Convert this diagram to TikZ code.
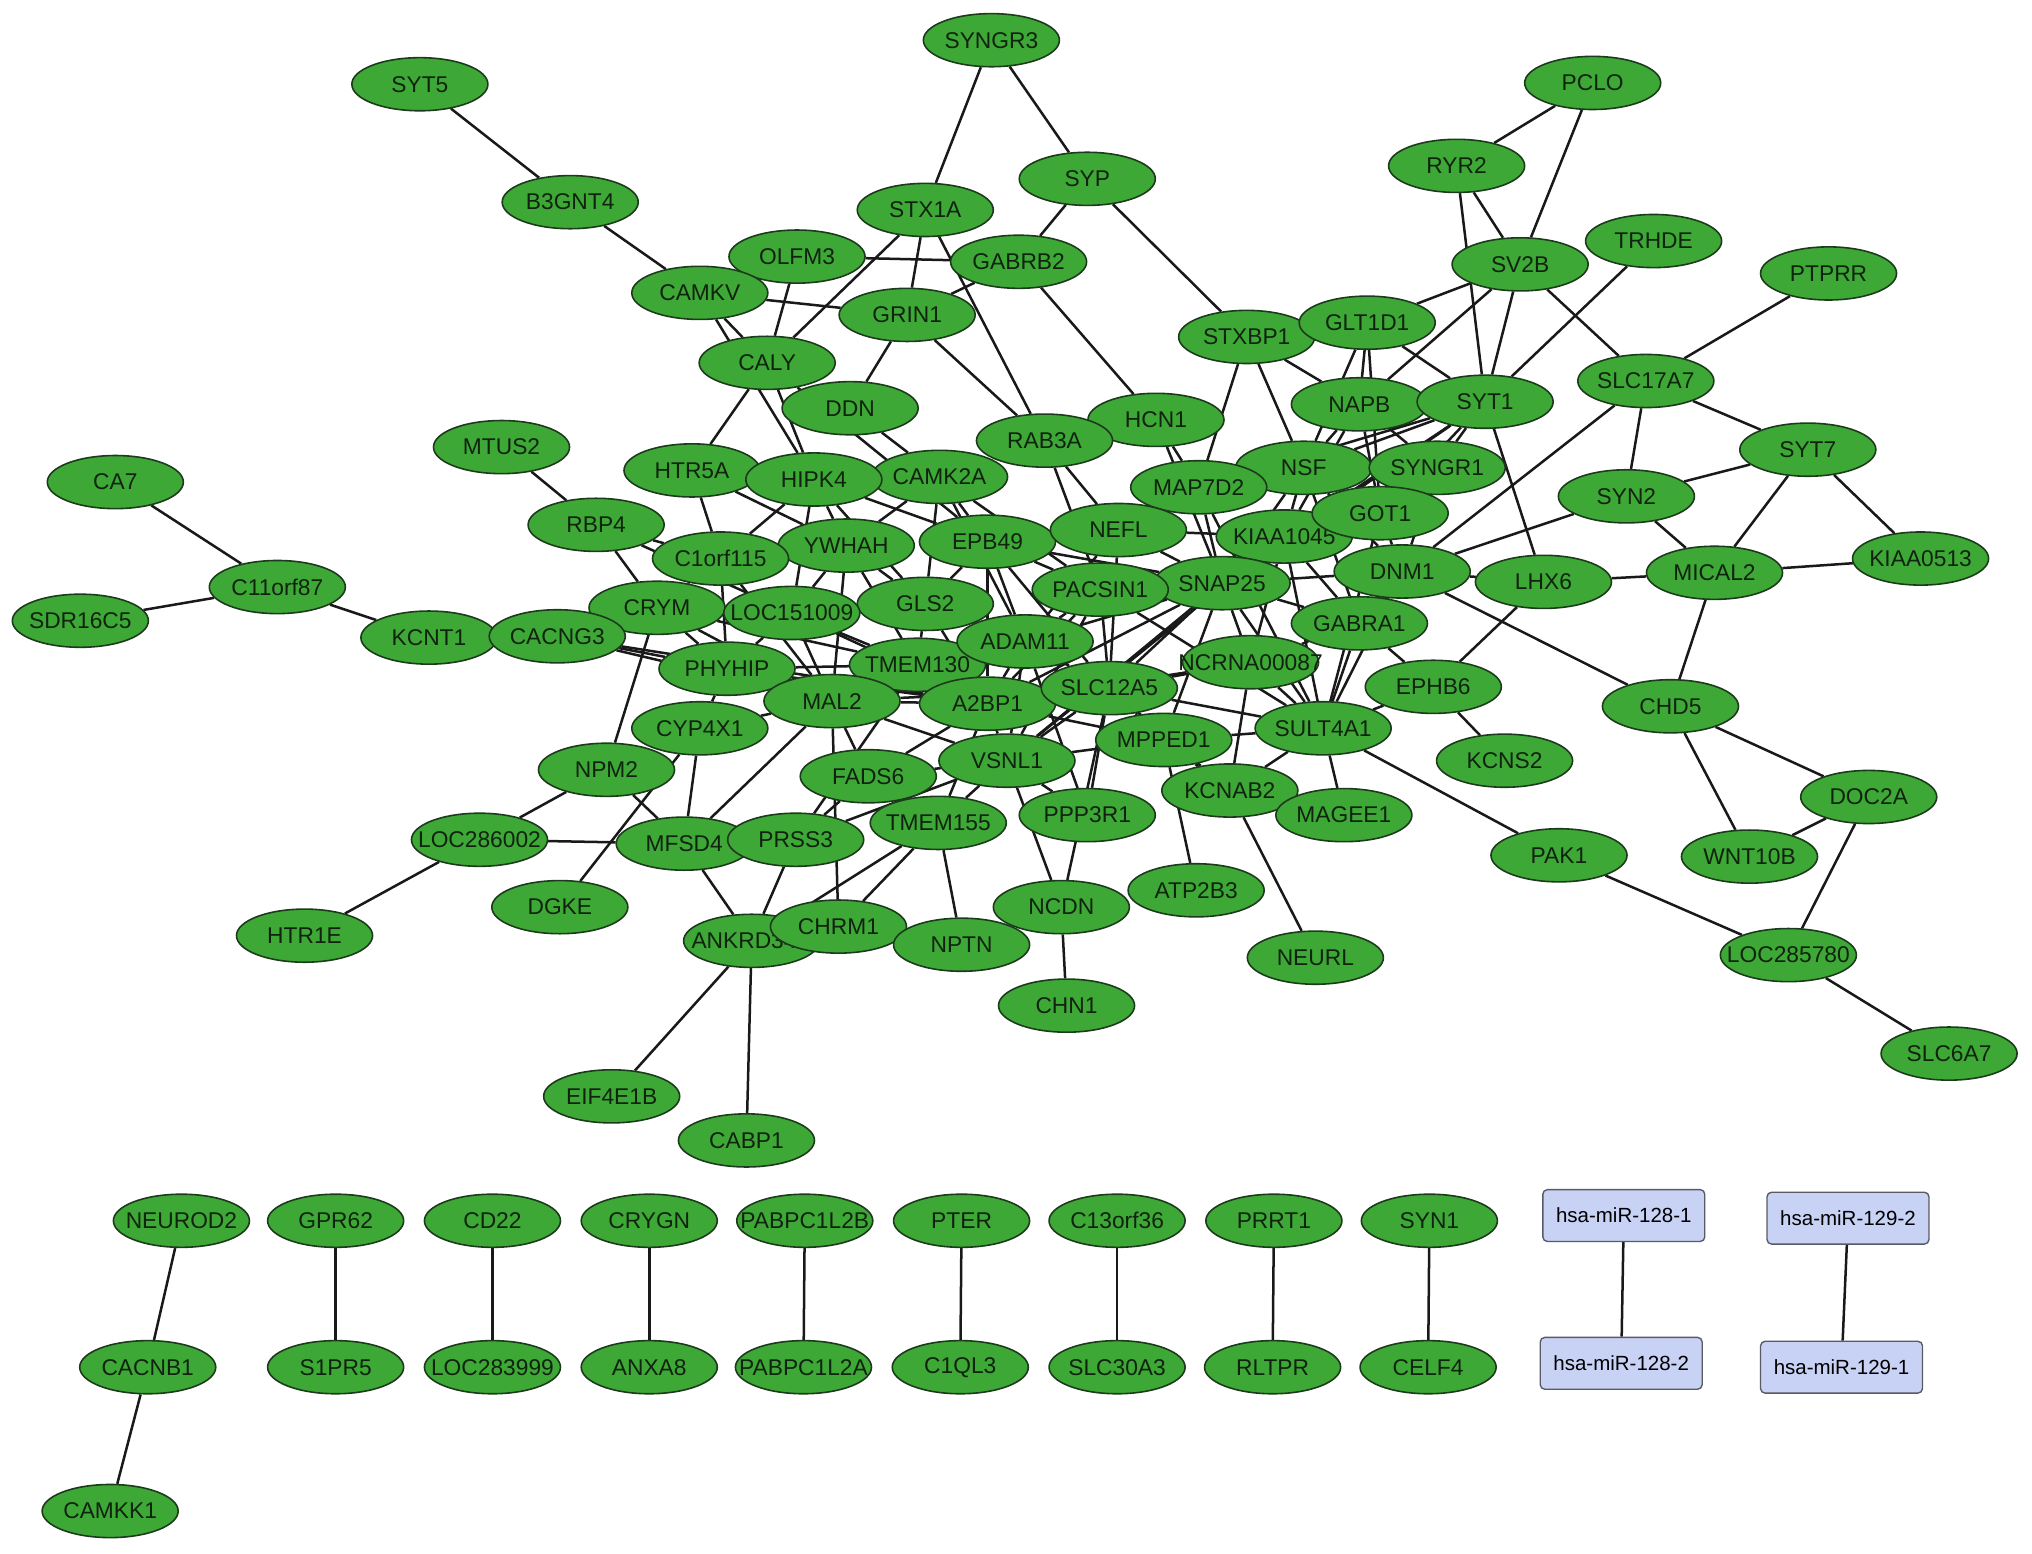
\documentclass[tikz,border=0pt]{standalone}
\usepackage{fontspec}
\setmainfont{Liberation Sans}
\usetikzlibrary{shapes.geometric}
\definecolor{gfill}{RGB}{62,168,54}
\definecolor{gline}{RGB}{28,58,28}
\definecolor{mfill}{RGB}{200,210,245}
\definecolor{mline}{RGB}{90,90,100}
\definecolor{txt}{RGB}{15,35,15}
\pgfdeclarelayer{bg}
\pgfsetlayers{bg,main}
\tikzset{
 gn/.style={ellipse, draw=gline, fill=gfill, line width=0.7pt, minimum width=2.1cm, minimum height=0.82cm, inner sep=0pt},
 lbl/.style={font=\fontsize{10}{12}\selectfont, text=txt, inner sep=0pt},
 mir/.style={rectangle, rounded corners=2pt, draw=mline, fill=mfill, line width=0.6pt, minimum width=2.5cm, minimum height=0.8cm, inner sep=0pt, font=\fontsize{9}{11}\selectfont, text=black},
 edge/.style={draw=black!90, line width=1.1pt}
}
\newcommand\gnode[4]{\node[gn, label={[lbl]center:#4}] (#1) at (#2,#3) {};}
\begin{document}
\begin{tikzpicture}[x=0.02cm,y=-0.02cm]
\useasboundingbox (0,0) rectangle (1568,1199);
\gnode{syngr3}{765}{31}{SYNGR3}
\gnode{syt5}{324}{65}{SYT5}
\gnode{pclo}{1229}{64}{PCLO}
\gnode{syp}{839}{138}{SYP}
\gnode{ryr2}{1124}{128}{RYR2}
\gnode{b3gnt4}{440}{156}{B3GNT4}
\gnode{stx1a}{714}{162}{STX1A}
\gnode{trhde}{1276}{186}{TRHDE}
\gnode{sv2b}{1173}{204}{SV2B}
\gnode{ptprr}{1411}{211}{PTPRR}
\gnode{olfm3}{615}{198}{OLFM3}
\gnode{gabrb2}{786}{202}{GABRB2}
\gnode{camkv}{540}{226}{CAMKV}
\gnode{grin1}{700}{243}{GRIN1}
\gnode{stxbp1}{962}{260}{STXBP1}
\gnode{glt1d1}{1055}{249}{GLT1D1}
\gnode{caly}{592}{280}{CALY}
\gnode{slc17a7}{1270}{294}{SLC17A7}
\gnode{ddn}{656}{315}{DDN}
\gnode{napb}{1049}{312}{NAPB}
\gnode{syt1}{1146}{310}{SYT1}
\gnode{hcn1}{892}{324}{HCN1}
\gnode{rab3a}{806}{340}{RAB3A}
\gnode{mtus2}{387}{345}{MTUS2}
\gnode{syt7}{1395}{347}{SYT7}
\gnode{htr5a}{534}{363}{HTR5A}
\gnode{camk2a}{725}{368}{CAMK2A}
\gnode{hipk4}{628}{370}{HIPK4}
\gnode{nsf}{1006}{361}{NSF}
\gnode{syngr1}{1109}{361}{SYNGR1}
\gnode{ca7}{89}{372}{CA7}
\gnode{map7d2}{925}{376}{MAP7D2}
\gnode{syn2}{1255}{383}{SYN2}
\gnode{kiaa1045}{991}{414}{KIAA1045}
\gnode{got1}{1065}{396}{GOT1}
\gnode{rbp4}{460}{405}{RBP4}
\gnode{ywhah}{653}{421}{YWHAH}
\gnode{epb49}{762}{418}{EPB49}
\gnode{nefl}{863}{409}{NEFL}
\gnode{kiaa0513}{1482}{431}{KIAA0513}
\gnode{c1orf115}{556}{431}{C1orf115}
\gnode{dnm1}{1082}{441}{DNM1}
\gnode{mical2}{1323}{442}{MICAL2}
\gnode{lhx6}{1191}{449}{LHX6}
\gnode{c11orf87}{214}{453}{C11orf87}
\gnode{snap25}{943}{450}{SNAP25}
\gnode{pacsin1}{849}{455}{PACSIN1}
\gnode{gls2}{714}{466}{GLS2}
\gnode{crym}{507}{469}{CRYM}
\gnode{loc151009}{611}{473}{LOC151009}
\gnode{sdr16c5}{62}{479}{SDR16C5}
\gnode{gabra1}{1049}{481}{GABRA1}
\gnode{kcnt1}{331}{492}{KCNT1}
\gnode{cacng3}{430}{491}{CACNG3}
\gnode{tmem130}{708}{513}{TMEM130}
\gnode{adam11}{791}{495}{ADAM11}
\gnode{phyhip}{561}{516}{PHYHIP}
\gnode{ncrna}{965}{511}{NCRNA00087}
\gnode{ephb6}{1106}{530}{EPHB6}
\gnode{mal2}{642}{541}{MAL2}
\gnode{a2bp1}{762}{543}{A2BP1}
\gnode{slc12a5}{856}{531}{SLC12A5}
\gnode{chd5}{1289}{545}{CHD5}
\gnode{cyp4x1}{540}{562}{CYP4X1}
\gnode{sult4a1}{1021}{562}{SULT4A1}
\gnode{mpped1}{898}{571}{MPPED1}
\gnode{vsnl1}{777}{587}{VSNL1}
\gnode{kcns2}{1161}{587}{KCNS2}
\gnode{npm2}{468}{594}{NPM2}
\gnode{fads6}{670}{599}{FADS6}
\gnode{kcnab2}{949}{610}{KCNAB2}
\gnode{doc2a}{1442}{615}{DOC2A}
\gnode{magee1}{1037}{629}{MAGEE1}
\gnode{ppp3r1}{839}{629}{PPP3R1}
\gnode{tmem155}{724}{635}{TMEM155}
\gnode{mfsd4}{528}{651}{MFSD4}
\gnode{prss3}{614}{648}{PRSS3}
\gnode{loc286002}{370}{648}{LOC286002}
\gnode{pak1}{1203}{660}{PAK1}
\gnode{wnt10b}{1350}{661}{WNT10B}
\gnode{atp2b3}{923}{687}{ATP2B3}
\gnode{dgke}{432}{700}{DGKE}
\gnode{ncdn}{819}{700}{NCDN}
\gnode{ankrd}{580}{726}{ANKRD34B}
\gnode{chrm1}{647}{715}{CHRM1}
\gnode{htr1e}{235}{722}{HTR1E}
\gnode{nptn}{742}{729}{NPTN}
\gnode{loc285780}{1380}{737}{LOC285780}
\gnode{neurl}{1015}{739}{NEURL}
\gnode{chn1}{823}{776}{CHN1}
\gnode{slc6a7}{1504}{813}{SLC6A7}
\gnode{eif4e1b}{472}{846}{EIF4E1B}
\gnode{cabp1}{576}{880}{CABP1}
% bottom rows
\gnode{neurod2}{140}{942}{NEUROD2}
\gnode{gpr62}{259}{942}{GPR62}
\gnode{cd22}{380}{942}{CD22}
\gnode{crygn}{501}{942}{CRYGN}
\gnode{pabpc1l2b}{621}{942}{PABPC1L2B}
\gnode{pter}{742}{942}{PTER}
\gnode{c13orf36}{862}{942}{C13orf36}
\gnode{prrt1}{983}{942}{PRRT1}
\gnode{syn1}{1103}{942}{SYN1}
\gnode{cacnb1}{114}{1055}{CACNB1}
\gnode{s1pr5}{259}{1055}{S1PR5}
\gnode{loc283999}{380}{1055}{LOC283999}
\gnode{anxa8}{501}{1055}{ANXA8}
\gnode{pabpc1l2a}{620}{1055}{PABPC1L2A}
\gnode{c1ql3}{741}{1055}{C1QL3}
\gnode{slc30a3}{862}{1055}{SLC30A3}
\gnode{rltpr}{982}{1055}{RLTPR}
\gnode{celf4}{1102}{1055}{CELF4}
\gnode{camkk1}{85}{1166}{CAMKK1}
\node[mir] (mira) at (1253,938) {hsa-miR-128-1};
\node[mir] (mirb) at (1251,1052) {hsa-miR-128-2};
\node[mir] (mirc) at (1426,940) {hsa-miR-129-2};
\node[mir] (mird) at (1421,1055) {hsa-miR-129-1};
\begin{pgfonlayer}{bg}
\foreach \a/\b in {syt5/b3gnt4, b3gnt4/camkv, syngr3/stx1a, syngr3/syp, syp/gabrb2, syp/stxbp1, pclo/ryr2, pclo/sv2b, ryr2/sv2b, ryr2/syt1, sv2b/glt1d1, sv2b/napb, sv2b/syt1, sv2b/slc17a7, trhde/syt1, ptprr/slc17a7, slc17a7/syt7, slc17a7/syn2, slc17a7/dnm1, syt7/syn2, syt7/mical2, syt7/kiaa0513, syn2/mical2, syn2/dnm1, mical2/kiaa0513, mical2/lhx6, mical2/chd5, lhx6/dnm1, syt1/lhx6, lhx6/ephb6, dnm1/chd5, chd5/doc2a, chd5/wnt10b, doc2a/wnt10b, doc2a/loc285780, pak1/loc285780, loc285780/slc6a7, sult4a1/pak1, ephb6/kcns2, sult4a1/magee1, kcnab2/neurl, mpped1/atp2b3, ncdn/chn1, vsnl1/ncdn, slc12a5/ncdn, nptn/tmem155, mal2/chrm1, ankrd/mfsd4, ankrd/prss3, ankrd/tmem155, ankrd/eif4e1b, ankrd/cabp1, mfsd4/npm2, mfsd4/loc286002, mfsd4/cyp4x1, mfsd4/mal2, loc286002/npm2, loc286002/htr1e, dgke/cyp4x1, npm2/crym, cyp4x1/phyhip, cyp4x1/mal2, rbp4/mtus2, rbp4/c1orf115, rbp4/crym, rbp4/loc151009, c11orf87/ca7, c11orf87/sdr16c5, c11orf87/kcnt1, cacng3/phyhip, cacng3/mal2, cacng3/a2bp1, htr5a/caly, htr5a/c1orf115, htr5a/ywhah, caly/hipk4, caly/epb49, camkv/caly, camkv/grin1, camkv/hipk4, olfm3/gabrb2, olfm3/caly, stx1a/caly, stx1a/grin1, stx1a/rab3a, gabrb2/grin1, gabrb2/hcn1, grin1/ddn, grin1/rab3a, ddn/camk2a, rab3a/nefl, rab3a/pacsin1, hcn1/map7d2, hcn1/snap25, stxbp1/map7d2, stxbp1/nsf, stxbp1/napb, glt1d1/napb, glt1d1/syt1, glt1d1/nsf, glt1d1/got1,
napb/nsf, napb/syngr1, napb/kiaa1045, napb/got1, syt1/nsf, syt1/syngr1, syt1/got1, syt1/kiaa1045, syt1/map7d2, syt1/snap25, nsf/syngr1, nsf/kiaa1045, nsf/snap25, nsf/dnm1, nsf/gabra1, got1/dnm1, got1/snap25, kiaa1045/snap25, kiaa1045/sult4a1, dnm1/gabra1, dnm1/sult4a1, dnm1/snap25, map7d2/snap25, map7d2/sult4a1, syngr1/kiaa1045, syngr1/dnm1,
hipk4/ywhah, hipk4/c1orf115, hipk4/loc151009, hipk4/gls2, hipk4/epb49, camk2a/epb49, camk2a/ywhah, camk2a/gls2, camk2a/pacsin1, camk2a/adam11, ywhah/c1orf115, ywhah/loc151009, ywhah/gls2, ywhah/mal2, ywhah/tmem130, c1orf115/crym, c1orf115/phyhip, c1orf115/mal2, crym/phyhip, crym/mal2, crym/tmem130, loc151009/phyhip, loc151009/mal2, loc151009/a2bp1, loc151009/tmem130, gls2/adam11, gls2/tmem130, gls2/epb49, gls2/a2bp1, epb49/pacsin1, epb49/adam11, epb49/slc12a5, epb49/a2bp1, epb49/snap25, nefl/snap25, nefl/adam11, nefl/slc12a5, nefl/kiaa1045, pacsin1/adam11, pacsin1/slc12a5, pacsin1/a2bp1, pacsin1/vsnl1, pacsin1/sult4a1, snap25/adam11, snap25/slc12a5, snap25/a2bp1, snap25/vsnl1, snap25/ncrna, snap25/sult4a1, snap25/gabra1, snap25/mpped1, adam11/slc12a5, adam11/a2bp1, adam11/vsnl1, adam11/mal2, adam11/ppp3r1, tmem130/mal2, tmem130/a2bp1, tmem130/phyhip, mal2/a2bp1, mal2/phyhip, mal2/fads6, mal2/vsnl1, mal2/slc12a5, a2bp1/slc12a5, a2bp1/vsnl1, a2bp1/fads6, a2bp1/tmem155, slc12a5/vsnl1, slc12a5/mpped1, slc12a5/ncrna, slc12a5/sult4a1, slc12a5/ppp3r1, slc12a5/kcnab2, vsnl1/mpped1, vsnl1/ppp3r1, vsnl1/tmem155, vsnl1/fads6, vsnl1/prss3, ncrna/sult4a1, ncrna/kcnab2, ncrna/gabra1, ncrna/a2bp1, gabra1/sult4a1, gabra1/ephb6, sult4a1/ephb6, sult4a1/kcnab2, sult4a1/mpped1, kcnab2/mpped1, mpped1/a2bp1, fads6/prss3, fads6/tmem155, phyhip/a2bp1, kiaa1045/ncrna, kiaa1045/gabra1, got1/sult4a1, kiaa1045/vsnl1, tmem155/chrm1, prss3/tmem130,
neurod2/cacnb1, cacnb1/camkk1, gpr62/s1pr5, cd22/loc283999, crygn/anxa8, pabpc1l2b/pabpc1l2a, pter/c1ql3, c13orf36/slc30a3, prrt1/rltpr, syn1/celf4, mira/mirb, mirc/mird}
  \draw[edge] (\a) -- (\b);
\end{pgfonlayer}
\end{tikzpicture}
\end{document}
